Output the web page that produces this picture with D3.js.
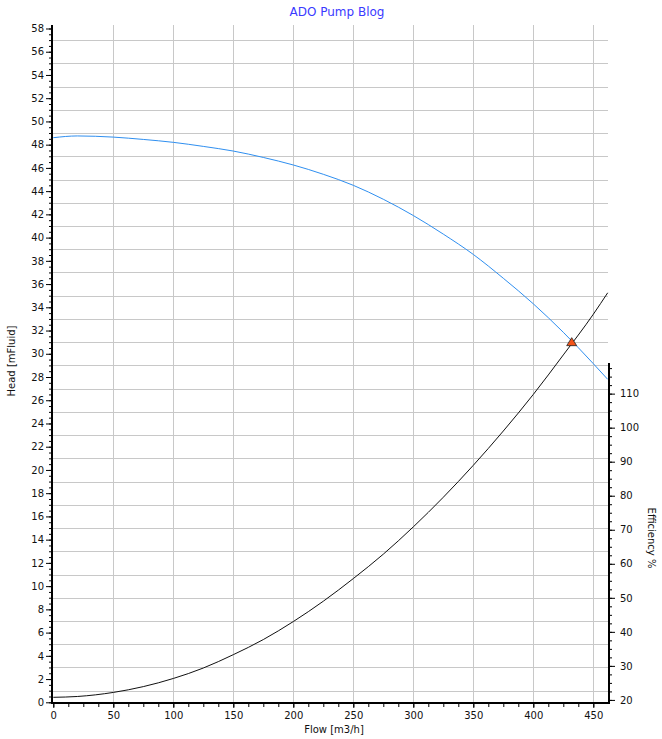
<!DOCTYPE html>
<html>
<head>
<meta charset="utf-8">
<script src="https://cdn.jsdelivr.net/npm/d3@7"></script>
<style>
  body { margin: 0; background: #fff; }
  svg text { font-family: "DejaVu Sans", sans-serif; }
</style>
</head>
<body>
<svg id="pumpchart"></svg>
<script>
// values
const flow = [0, 20, 50, 75, 100, 125, 150, 175, 200, 225, 250, 275, 300, 325, 350, 375, 400, 425, 450, 462];
const pumpHead = [48.6, 48.75, 48.65, 48.45, 48.2, 47.85, 47.45, 46.9, 46.25, 45.45, 44.5, 43.3, 41.9, 40.3, 38.55, 36.5, 34.3, 31.85, 29.15, 27.8];
const systemHead = [0.43, 0.5, 0.85, 1.35, 2.05, 2.95, 4.1, 5.4, 6.95, 8.7, 10.65, 12.75, 15.1, 17.65, 20.4, 23.35, 26.5, 29.9, 33.4, 35.25];
const dutyPoint = [432, 31.0];

const flowTicks = [0, 50, 100, 150, 200, 250, 300, 350, 400, 450];
const headTicks = d3.range(0, 59, 2);
const effTicks = [20, 30, 40, 50, 60, 70, 80, 90, 100, 110];
const headGrid = d3.range(1, 58, 2);

const W = 662, H = 739;
const svg = d3.select('#pumpchart').attr('width', W).attr('height', H);

const x = d3.scaleLinear().domain([0, 462]).range([53.3, 607.7]);
const yHead = d3.scaleLinear().domain([0, 58.3]).range([702.3, 25]);
const yEff = d3.scaleLinear().domain([19.3, 119]).range([702.3, 363]);
const px = v => Math.round(v) + 0.5;

// title
svg.append('text')
    .attr('x', 337).attr('y', 16)
    .attr('text-anchor', 'middle')
    .style('font-size', '12px')
    .style('fill', '#3a3aff')
    .text('ADO Pump Blog');

/** grid */
const grid = svg.append('g').style('stroke', '#c8c8c8').style('stroke-width', 1);
grid.selectAll('.vg')
    .data(flowTicks.filter(d => d > 0))
    .enter().append('line')
    .attr('x1', d => px(x(d))).attr('x2', d => px(x(d)))
    .attr('y1', 25).attr('y2', 702);
grid.selectAll('.hg')
    .data(headGrid)
    .enter().append('line')
    .attr('x1', 53).attr('x2', 608)
    .attr('y1', d => px(yHead(d))).attr('y2', d => px(yHead(d)));

/** curves */
const curveLine = d3.line().x((d, i) => x(flow[i])).y(d => yHead(d)).curve(d3.curveMonotoneX);
svg.append('path')
    .attr('d', curveLine(pumpHead))
    .style('fill', 'none').style('stroke', '#2f8ff0').style('stroke-width', 1);
svg.append('path')
    .attr('d', curveLine(systemHead))
    .style('fill', 'none').style('stroke', '#111').style('stroke-width', 1);

// duty point marker
const dx = x(dutyPoint[0]), dy = yHead(dutyPoint[1]);
svg.append('path')
    .attr('d', `M${dx},${dy - 4.5} L${dx + 5},${dy + 3.5} L${dx - 5},${dy + 3.5} Z`)
    .style('fill', '#f2541b').style('stroke', '#222').style('stroke-width', 0.8);

/** axes */
function styleAxis(g) {
    g.select('.domain').remove();
    g.selectAll('line').style('stroke', '#000');
    g.selectAll('text').style('font-size', '10px').style('fill', '#111');
}

svg.append('g').attr('transform', 'translate(52,0)')
    .call(d3.axisLeft(yHead).tickValues(d3.range(0, 58.1, 0.5)).tickSize(3).tickFormat(''))
    .call(styleAxis);
svg.append('g').attr('transform', 'translate(52,0)')
    .call(d3.axisLeft(yHead).tickValues(headTicks).tickSize(6).tickPadding(2))
    .call(styleAxis);

svg.append('g').attr('transform', 'translate(0,703)')
    .call(d3.axisBottom(x).tickValues(d3.range(0, 462, 12.5)).tickSize(4).tickFormat(''))
    .call(styleAxis);
svg.append('g').attr('transform', 'translate(0,703)')
    .call(d3.axisBottom(x).tickValues(flowTicks).tickSize(5).tickPadding(4))
    .call(styleAxis);

svg.append('g').attr('transform', 'translate(609,0)')
    .call(d3.axisRight(yEff).tickValues(d3.range(20, 118, 2.5)).tickSize(3).tickFormat(''))
    .call(styleAxis);
svg.append('g').attr('transform', 'translate(609,0)')
    .call(d3.axisRight(yEff).tickValues(effTicks).tickSize(6).tickPadding(5))
    .call(styleAxis);

// axis lines, drawn thick
const axisLines = svg.append('g').style('stroke', '#000').style('stroke-width', 2);
axisLines.append('line').attr('x1', 52).attr('x2', 52).attr('y1', 25).attr('y2', 704);
axisLines.append('line').attr('x1', 51).attr('x2', 610).attr('y1', 703).attr('y2', 703);
axisLines.append('line').attr('x1', 609).attr('x2', 609).attr('y1', 363).attr('y2', 704);

/** axis titles */
svg.append('text')
    .attr('transform', 'translate(15,361) rotate(-90)')
    .attr('text-anchor', 'middle')
    .style('font-size', '10px').style('fill', '#111')
    .text('Head [mFluid]');
svg.append('text')
    .attr('x', 334).attr('y', 733)
    .attr('text-anchor', 'middle')
    .style('font-size', '10px').style('fill', '#111')
    .text('Flow [m3/h]');
svg.append('text')
    .attr('transform', 'translate(648,538) rotate(90)')
    .attr('text-anchor', 'middle')
    .style('font-size', '10px').style('fill', '#111')
    .text('Efficiency %');
</script>
</body>
</html>
